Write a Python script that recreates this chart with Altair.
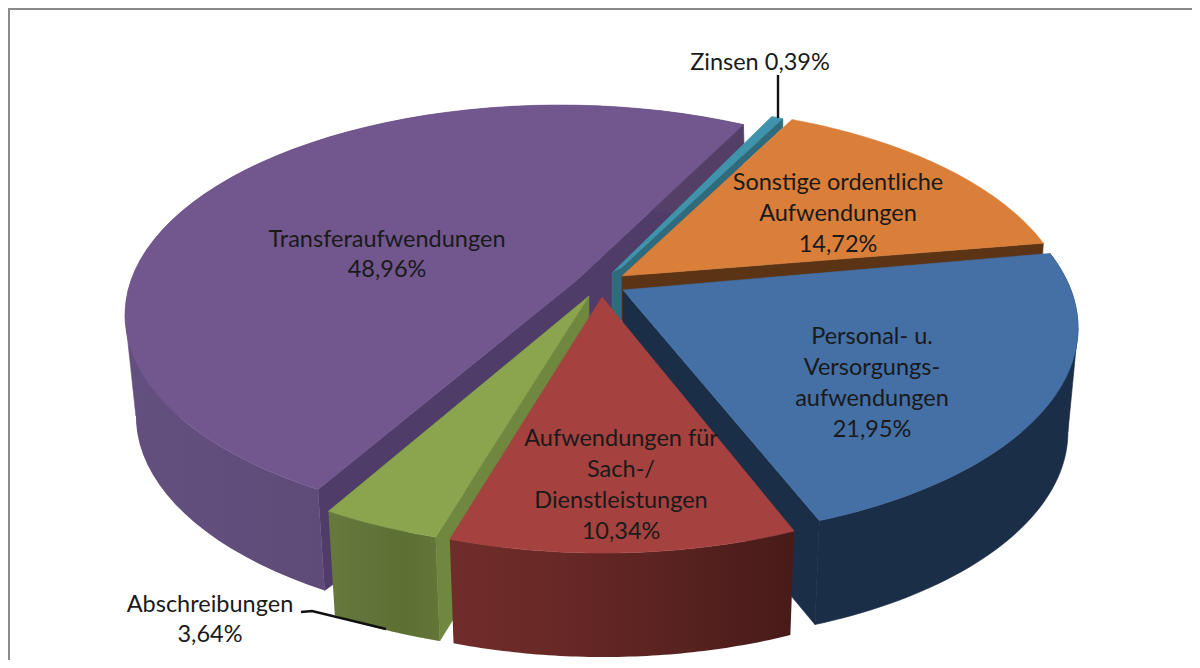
import math
import altair as alt
import pandas as pd

# ---- data
categories = ["Zinsen", "Sonstige ordentliche Aufwendungen", "Personal- u. Versorgungsaufwendungen",
              "Aufwendungen für Sach-/Dienstleistungen", "Abschreibungen", "Transferaufwendungen"]
shares = [0.39, 14.72, 21.95, 10.34, 3.64, 48.96]
label_lines = [
    ["Zinsen 0,39%"],
    ["Sonstige ordentliche", "Aufwendungen", "14,72%"],
    ["Personal- u.", "Versorgungs-", "aufwendungen", "21,95%"],
    ["Aufwendungen für", "Sach-/", "Dienstleistungen", "10,34%"],
    ["Abschreibungen", "3,64%"],
    ["Transferaufwendungen", "48,96%"],
]
SHARE = dict(zip(categories, shares))
Z, S, P, A, B, T = categories

# ---- layout of the exploded 3-D pie (page pixels)
X0, X1, Y0, Y1 = 8, 1192, 8, 660
xs = alt.Scale(domain=[X0, X1], range=[0, X1 - X0], nice=False, zero=False)
ys = alt.Scale(domain=[Y0, Y1], range=[0, Y1 - Y0], nice=False, zero=False)
DEPTH, SHRINK, CX = 104, 0.022, 620
GEOM = {
    T: dict(ex=560, ey=315, rx=435, ry=210, t0=213.8, k=0.971, apex=(577, 280), depth=101),
    Z: dict(ex=610, ey=311, rx=430, ry=210, t0=22.1, k=1.14, apex=(612, 273)),
    S: dict(ex=640, ey=316, rx=430, ry=210, t0=20.7, k=0.925, apex=(622, 276)),
    P: dict(ex=648, ey=328, rx=430, ry=210, t0=69.2, k=1.105, apex=(623, 290)),
    A: dict(ex=603, ey=343, rx=430, ry=210, t0=153.6, k=1.27, apex=(602, 297)),
    B: dict(ex=570, ey=337.5, rx=430, ry=210, t0=198.2, k=1.22, apex=(589, 296)),
}
LABEL_POS = [(760, 63, 31), (838, 183, 31), (872, 337, 31), (621, 439, 31), (210, 605, 30), (387, 240, 30)]


def arc(name, n=60):
    g = GEOM[name]
    sweep = SHARE[name] * 3.6 * g["k"]
    pts = []
    for i in range(n + 1):
        t = math.radians(g["t0"] + sweep * i / n)
        pts.append((g["ex"] + g["rx"] * math.sin(t), g["ey"] - g["ry"] * math.cos(t)))
    return pts


def drop(p, depth=DEPTH):
    return (p[0] + (CX - p[0]) * SHRINK, p[1] + depth)


layers = []


def poly(pts, fill):
    pts = list(pts) + [pts[0]]
    df = pd.DataFrame({"x": [p[0] for p in pts], "y": [p[1] for p in pts], "i": range(len(pts))})
    layers.append(
        alt.Chart(df).mark_line(fill=fill, stroke=fill if isinstance(fill, str) else "#00000000",
                                strokeWidth=0.6, interpolate="linear", clip=False)
        .encode(x=alt.X("x:Q", scale=xs, axis=None), y=alt.Y("y:Q", scale=ys, axis=None), order="i:Q")
    )


def grad(stops):
    n = len(stops) - 1
    return alt.Gradient(gradient="linear", x1=0, x2=1, y1=0, y2=0,
                        stops=[alt.GradientStop(offset=i / n, color=c) for i, c in enumerate(stops)])


def wall(name, fill, depth=DEPTH):
    a = arc(name)
    poly(a + [drop(p, depth) for p in reversed(a)], fill)


def silhouette(name, edge_fill, depth=DEPTH, side=-1):
    """Straight tangent edge joining the top and bottom outlines at the widest point."""
    g = GEOM[name]
    p = (g["ex"] + side * g["rx"], g["ey"])
    q = drop(p, depth)
    poly([p, q, (q[0] - side * 90, q[1]), (p[0] - side * 90, p[1])], edge_fill)


def top(name, fill):
    poly([GEOM[name]["apex"]] + arc(name), fill)


# Transferaufwendungen
a = arc(T)
poly([a[-1], (744, 145), (612, 320), drop((590, 296)), drop(a[0], 101), a[0], GEOM[T]["apex"]], "#503c69")
silhouette(T, "#64507f", 101, -1)
wall(T, grad(["#64507f", "#5f4b78", "#574369", "#533f65"]), 101)
top(T, "#71578e")

# Zinsen
a = arc(Z, 4)
poly([a[0], a[-1], (622, 268), (612, 273)], "#3f93ab")
poly([a[-1], (a[-1][0], a[-1][1] + 9), (622, 276), (622, 320), (612, 320), (612, 273), (622, 268)], "#2f6b7c")

# Sonstige ordentliche Aufwendungen
a = arc(S)
poly([GEOM[S]["apex"], a[-1], (a[-1][0] - 1, a[-1][1] + 16), (624, 291), (624, 322), (622, 322)], "#5b3416")
top(S, "#d97f3a")

# Personal- u. Versorgungsaufwendungen
a = arc(P)
ap = GEOM[P]["apex"]
silhouette(P, "#1a2e47", DEPTH, 1)
poly([ap, a[-1], drop(a[-1]), (ap[0], ap[1] + DEPTH)], "#1a2e47")
wall(P, "#1a2e47")
top(P, "#4470a6")

# Abschreibungen
a = arc(B)
ap = GEOM[B]["apex"]
poly([ap, a[0], drop(a[0]), (ap[0], ap[1] + DEPTH)], "#6f873f")
wall(B, grad(["#67793a", "#61743a", "#5d7033", "#637638"]))
top(B, "#8aa54d")

# Aufwendungen für Sach-/Dienstleistungen
wall(A, grad(["#702c2a", "#672826", "#582220", "#471b19"]))
top(A, "#a5413f")

# leader lines
for pts in ([(778, 75), (778, 118)], [(301, 612), (312, 611), (386, 629)]):
    df = pd.DataFrame({"x": [p[0] for p in pts], "y": [p[1] for p in pts], "i": range(len(pts))})
    layers.append(alt.Chart(df).mark_line(color="#111111", strokeWidth=2.4)
                  .encode(x=alt.X("x:Q", scale=xs, axis=None), y=alt.Y("y:Q", scale=ys, axis=None), order="i:Q"))

# frame (top and left only)
layers.append(alt.Chart(pd.DataFrame({"x": [X0], "x2": [X1], "y": [9]})).mark_rule(color="#8a8a8a", strokeWidth=2)
              .encode(x=alt.X("x:Q", scale=xs, axis=None), x2="x2:Q", y=alt.Y("y:Q", scale=ys, axis=None)))
layers.append(alt.Chart(pd.DataFrame({"y": [Y0], "y2": [Y1], "x": [9]})).mark_rule(color="#8a8a8a", strokeWidth=2)
              .encode(y=alt.Y("y:Q", scale=ys, axis=None), y2="y2:Q", x=alt.X("x:Q", scale=xs, axis=None)))

# labels
rows = []
for lines, (lx, ly, step) in zip(label_lines, LABEL_POS):
    for j, line in enumerate(lines):
        rows.append({"x": lx, "y": ly + j * step, "t": line})
layers.append(alt.Chart(pd.DataFrame(rows)).mark_text(font="Lato", fontSize=23.5, color="#1a1a1a",
                                                      align="center", baseline="middle")
              .encode(x=alt.X("x:Q", scale=xs, axis=None), y=alt.Y("y:Q", scale=ys, axis=None), text="t:N"))

chart = alt.layer(*layers).properties(width=X1 - X0, height=Y1 - Y0, padding=0, background="white",
                                      autosize=alt.AutoSizeParams(type="none")).configure_view(stroke=None)
chart.save("out.html", embed_options={"renderer": "svg", "actions": False})
